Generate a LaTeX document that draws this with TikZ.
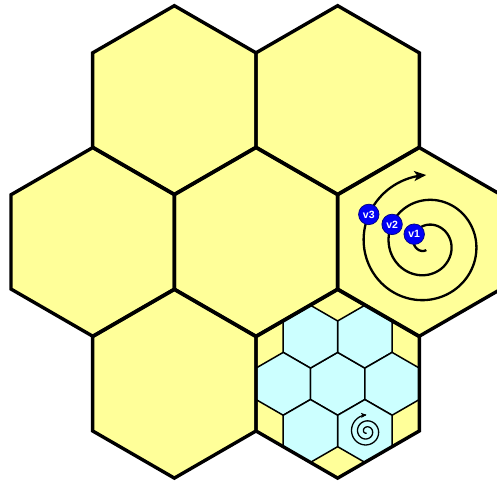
\documentclass[tikz,border=0pt]{standalone}
\usepackage{fontspec}
\setsansfont{Liberation Sans}
\usetikzlibrary{arrows.meta}
\definecolor{hexyellow}{HTML}{FFFF99}
\definecolor{hexcyan}{HTML}{CCFFFF}
\definecolor{nodeblue}{HTML}{0000F5}
\definecolor{nodeedge}{HTML}{000080}
\newcommand{\hexat}[4]{%
  \path[#1] ({#2},{#3-#4}) -- ({#2+0.8660254*#4},{#3-0.5*#4}) -- ({#2+0.8660254*#4},{#3+0.5*#4})
    -- ({#2},{#3+#4}) -- ({#2-0.8660254*#4},{#3+0.5*#4}) -- ({#2-0.8660254*#4},{#3-0.5*#4}) -- cycle;}
\newcommand{\spiralplot}[4]{%
  \draw[#1] plot[domain=90:990, samples=360, variable=\t]
    ({#2 + #4*(18.75+(\t-270)/14.4)*cos(\t)}, {#3 + #4*(18.75+(\t-270)/14.4)*sin(\t)});}
\begin{document}
\begin{tikzpicture}[x=1pt,y=-1pt,
  bigfill/.style={fill=hexyellow},
  bigline/.style={draw=black, line width=3.4pt},
  smallhex/.style={fill=hexcyan, draw=black, line width=1.5pt},
  bigspiral/.style={line width=2.3pt, -{Stealth[length=12pt,width=10pt,inset=3pt]}},
  smallspiral/.style={line width=1.3pt, -{Stealth[length=5.5pt,width=5pt,inset=1.3pt]}},
  vnode/.style={circle, fill=nodeblue, draw=nodeedge, line width=0.7pt, minimum size=20.5pt, inner sep=0pt,
    text=white, font=\sffamily\bfseries\fontsize{10.5}{10.5}\selectfont}]
\useasboundingbox (0,0) rectangle (497,480);
% big hexagons: fill
\foreach \cx/\cy in {174.35/100, 337.65/100, 92.7/241.9, 256/241.9, 419.3/241.9, 174.35/383.8, 337.65/383.8}
  {\hexat{bigfill}{\cx}{\cy}{94.3}}
% small cyan hexagons inside bottom-right hexagon
\foreach \dx/\dy in {0/0, 27.22/-47.15, -27.22/-47.15, 54.44/0, -54.44/0, 27.22/47.15, -27.22/47.15}
  {\hexat{smallhex}{337.65+\dx}{383.8+\dy}{31.43}}
% big hexagons: borders
\foreach \cx/\cy in {174.35/100, 337.65/100, 92.7/241.9, 256/241.9, 419.3/241.9, 174.35/383.8, 337.65/383.8}
  {\hexat{bigline}{\cx}{\cy}{94.3}}
% spirals
\spiralplot{bigspiral}{426.25}{243.75}{1}
\spiralplot{smallspiral}{366.57}{431.4}{0.24}
% nodes on the big spiral
\node[vnode] (v1) at (414.2,234.2) {v1};
\node[vnode] (v2) at (392.1,224.4) {v2};
\node[vnode] (v3) at (368.8,214.4) {v3};
\end{tikzpicture}
\end{document}
